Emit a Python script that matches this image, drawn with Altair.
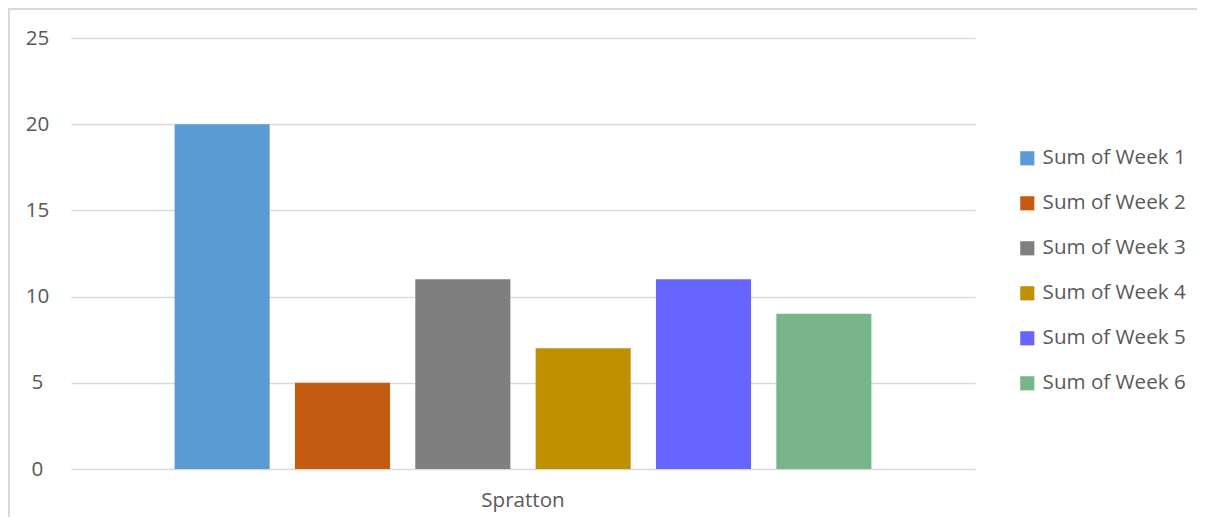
import altair as alt
import pandas as pd

categories = ["Spratton"]
series = ["Sum of Week 1", "Sum of Week 2", "Sum of Week 3",
          "Sum of Week 4", "Sum of Week 5", "Sum of Week 6"]
values = [20, 5, 11, 7, 11, 9]
colors = ["#5B9BD5", "#C55A11", "#7F7F7F", "#BF9000", "#6666FF", "#78B68A"]
y_ticks = [0, 5, 10, 15, 20, 25]

df = pd.DataFrame({
    "Site": categories * len(series),
    "Series": series,
    "Value": values,
})

FONT = "Open Sans"
TEXT = "#595959"
GRID = "#D9D9D9"
FS = 20.6

bars = alt.Chart(df).mark_bar().encode(
    x=alt.X("Site:N", title=None,
            scale=alt.Scale(paddingInner=0, paddingOuter=0.126),
            axis=alt.Axis(labelAngle=0, ticks=False, domain=False,
                          labelPadding=21, labelFont=FONT, labelFontSize=FS,
                          labelColor=TEXT)),
    xOffset=alt.XOffset("Series:N", sort=series,
                        scale=alt.Scale(paddingInner=0.21, paddingOuter=0.105)),
    y=alt.Y("Value:Q", title=None,
            scale=alt.Scale(domain=[0, 25], nice=False),
            axis=alt.Axis(values=y_ticks, domain=False, ticks=False,
                          gridColor=GRID, gridWidth=1.5,
                          labelAlign="center", labelPadding=34,
                          labelFont=FONT, labelFontSize=FS, labelColor=TEXT)),
    color=alt.Color("Series:N", sort=series,
                    scale=alt.Scale(domain=series, range=colors),
                    legend=alt.Legend(title=None, orient="none",
                                      legendX=946, legendY=110,
                                      symbolType="square", symbolSize=200,
                                      symbolStrokeWidth=0,
                                      rowPadding=24, labelOffset=5,
                                      labelFont=FONT, labelFontSize=FS,
                                      labelColor=TEXT, labelLimit=300)),
)

frame = pd.DataFrame({"a": [0]})
top_line = alt.Chart(frame).mark_rule(color=GRID, strokeWidth=2).encode(
    x=alt.value(-63), x2=alt.value(1200), y=alt.value(-29),
)
left_line = alt.Chart(frame).mark_rule(color=GRID, strokeWidth=2).encode(
    x=alt.value(-62), y=alt.value(-29), y2=alt.value(540),
)

chart = alt.layer(bars, top_line, left_line).properties(
    width=904, height=431,
    autosize=alt.AutoSizeParams(type="none"),
    padding={"left": 63, "top": 30, "right": 222, "bottom": 48},
).configure_view(stroke=None)

chart.save("out.html", embed_options={"renderer": "svg", "actions": False})
